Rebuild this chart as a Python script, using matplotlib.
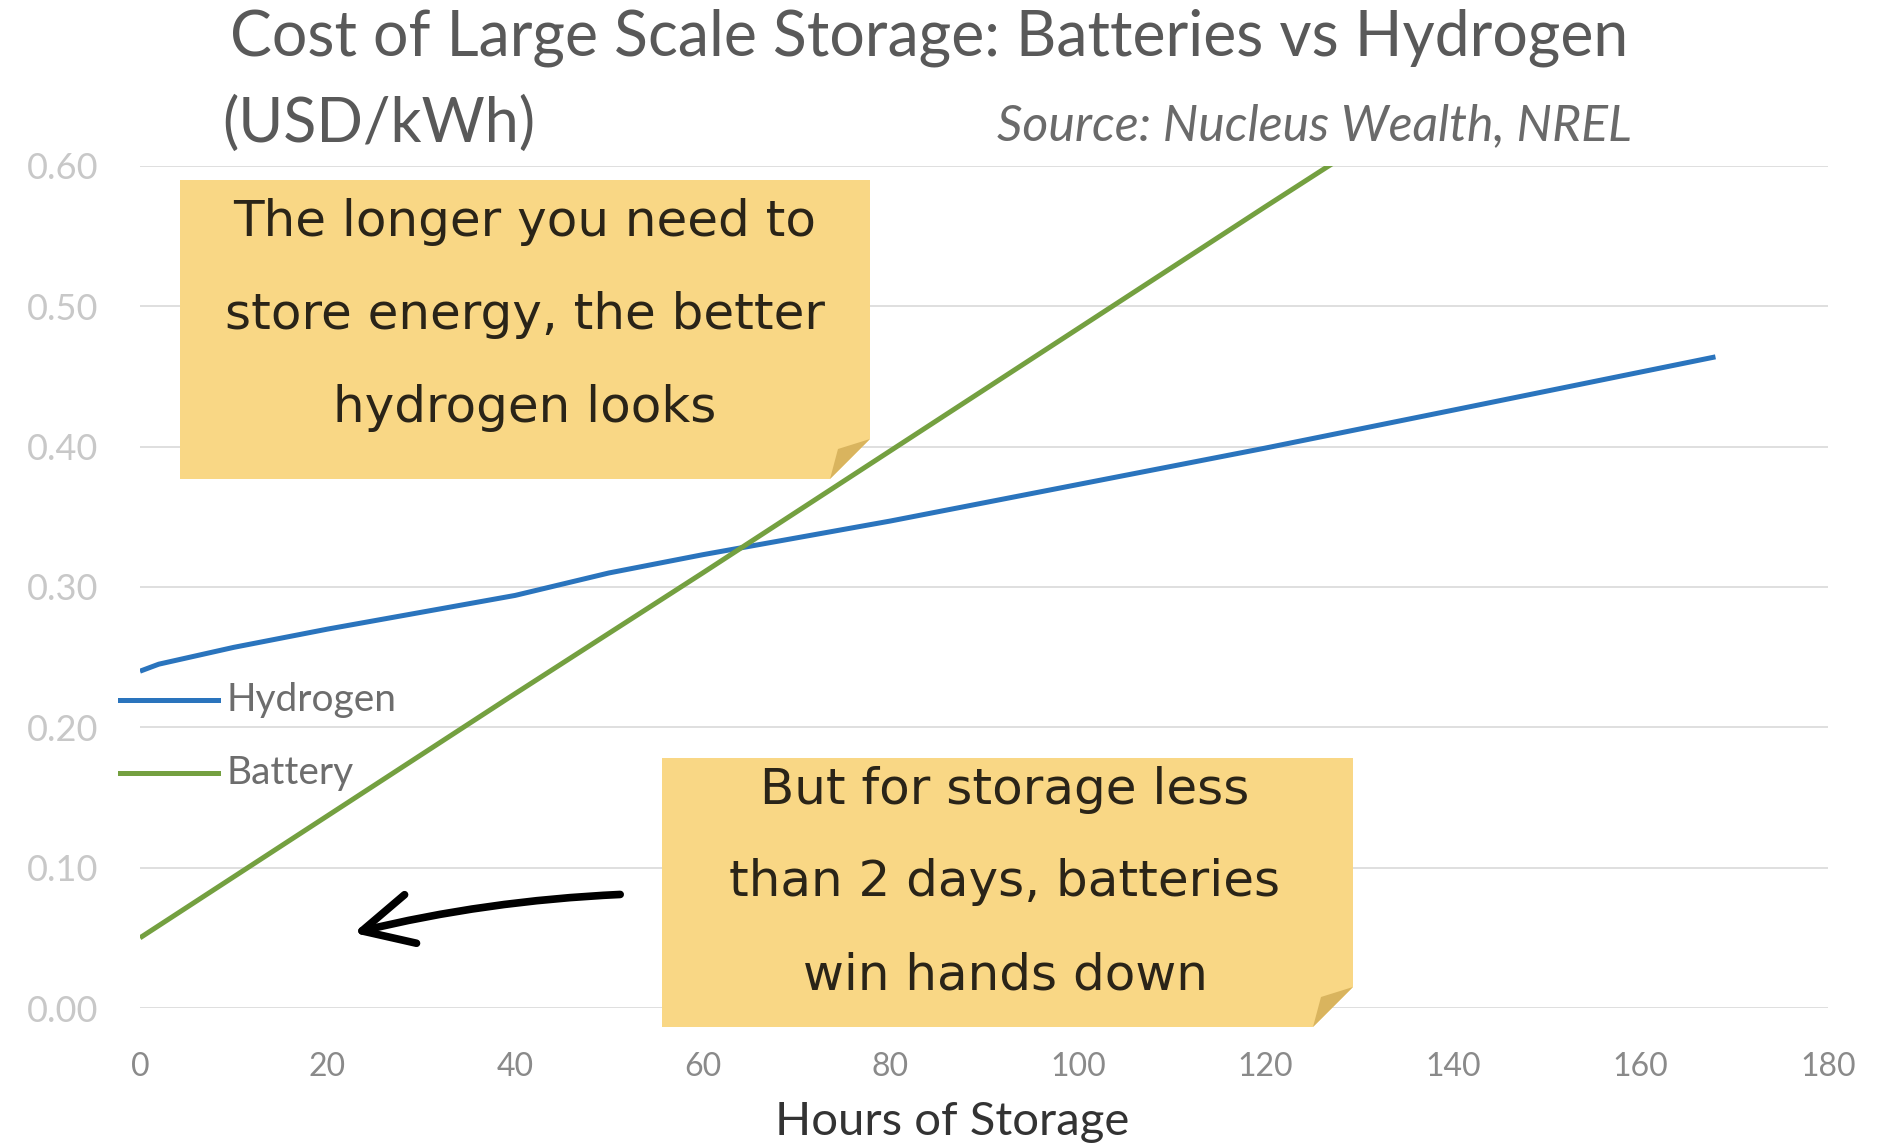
import matplotlib
matplotlib.use("Agg")
import matplotlib.pyplot as plt
from matplotlib.patches import Polygon
from matplotlib.lines import Line2D

# ---- data ----
hydrogen_hours = [0, 2, 10, 20, 30, 40, 50, 60, 70, 80, 90, 100, 120, 140, 168]
hydrogen_cost = [0.240, 0.245, 0.257, 0.270, 0.282, 0.294, 0.310, 0.323, 0.335,
                 0.347, 0.360, 0.373, 0.399, 0.426, 0.464]
battery_hours = [0, 20, 40, 60, 80, 100, 120, 130]
battery_cost = [0.050, 0.137, 0.224, 0.310, 0.397, 0.484, 0.571, 0.614]
y_ticks = [0.0, 0.1, 0.2, 0.3, 0.4, 0.5, 0.6]
x_ticks = [0, 20, 40, 60, 80, 100, 120, 140, 160, 180]
series_names = ["Hydrogen", "Battery"]

title = "Cost of Large Scale Storage: Batteries vs Hydrogen"
subtitle = "(USD/kWh)"
source = "Source: Nucleus Wealth, NREL"
note1 = ["The longer you need to", "store energy, the better", "hydrogen looks"]
note2 = ["But for storage less", "than 2 days, batteries", "win hands down"]

W, H = 1877, 1146
fig = plt.figure(figsize=(W / 100, H / 100), dpi=100)
fig.patch.set_facecolor("white")

def fx(x):
    return x / W

def fy(y):
    return 1 - y / H

FONT = ["Lato", "DejaVu Sans"]
HAND = ["DejaVu Sans"]
H_COL = "#2a74bd"
B_COL = "#74a040"

ax = fig.add_axes([fx(140), fy(1008), fx(1828) - fx(140), fy(166) - fy(1008)])
ax.set_xlim(0, 180)
ax.set_ylim(0, 0.6)
for s in ax.spines.values():
    s.set_visible(False)
ax.set_yticks(y_ticks)
ax.set_xticks(x_ticks)
ax.grid(axis="y", color="#dcdcdc", lw=1.3)
ax.set_axisbelow(True)
ax.tick_params(length=0)
ax.set_yticklabels([f"{v:.2f}" for v in y_ticks], color="#c8c8c8",
                   fontsize=26, family=FONT)
ax.set_xticklabels([str(v) for v in x_ticks], color="#8a8a8a",
                   fontsize=23, family=FONT)
ax.tick_params(axis="y", pad=30)
ax.tick_params(axis="x", pad=32)
fig.text(fx(952), fy(1122), "Hours of Storage", ha="center", va="center",
         fontsize=34, color="#333333", family=FONT)

ax.plot(hydrogen_hours, hydrogen_cost, color=H_COL, lw=3.6,
        solid_capstyle="butt", zorder=3)
ax.plot(battery_hours, battery_cost, color=B_COL, lw=3.6,
        solid_capstyle="butt", zorder=3)

# legend (manual)
for name, col, yy in zip(series_names, [H_COL, B_COL], [700, 773]):
    fig.add_artist(Line2D([fx(120), fx(218)], [fy(yy), fy(yy)], color=col,
                          lw=3.6, transform=fig.transFigure))
    fig.text(fx(226), fy(yy), name, ha="left", va="center", fontsize=28,
             color="#6d6d6d", family=FONT)

# sticky notes
NOTE_C = "#f9d785"
FOLD_C = "#d9b45e"

def sticky(x1, y1, x2, y2, lines, cx, ys):
    fold = 40
    poly = Polygon([(fx(x1), fy(y1)), (fx(x2), fy(y1)), (fx(x2), fy(y2 - fold)),
                    (fx(x2 - fold), fy(y2)), (fx(x1), fy(y2))],
                   closed=True, transform=fig.transFigure,
                   facecolor=NOTE_C, edgecolor="none", zorder=5)
    fig.add_artist(poly)
    tri = Polygon([(fx(x2), fy(y2 - fold)), (fx(x2 - fold), fy(y2)),
                   (fx(x2 - 32), fy(y2 - 30))],
                  closed=True, transform=fig.transFigure,
                  facecolor=FOLD_C, edgecolor="none", zorder=6)
    fig.add_artist(tri)
    for line, yy in zip(lines, ys):
        fig.text(fx(cx), fy(yy), line, ha="center", va="center",
                 fontsize=36, color="#2a2418", family=HAND, zorder=7)

sticky(180, 180, 870, 479, note1, 525, [222, 315, 408])
sticky(662, 758, 1353, 1027, note2, 1005, [790, 882, 976])

# arrow
ax.annotate("", xy=(22.5, 0.053), xytext=(51.5, 0.081),
            arrowprops=dict(arrowstyle="->, head_length=0.9, head_width=0.45",
                            color="black", lw=5.5, mutation_scale=40,
                            connectionstyle="arc3,rad=0.05"),
            zorder=8)

# titles
fig.text(fx(230), fy(38), title, ha="left", va="center", fontsize=45,
         color="#595959", family=FONT)
fig.text(fx(222), fy(124), subtitle, ha="left", va="center", fontsize=44,
         color="#595959", family=FONT)
fig.text(fx(1632), fy(126), source, ha="right", va="center", fontsize=36,
         color="#6a6a6a", family=FONT, style="italic")

fig.savefig("out.png", dpi=100, facecolor="white")
